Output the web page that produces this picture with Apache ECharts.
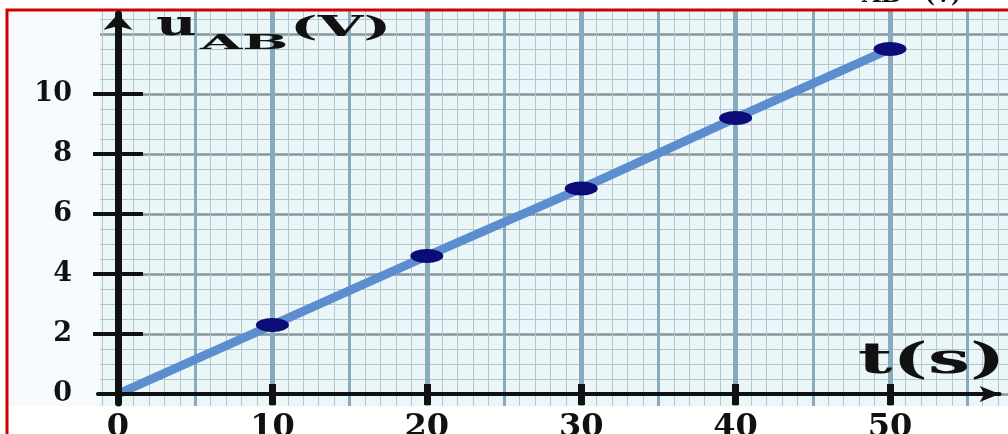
<!DOCTYPE html>
<html>
<head>
<meta charset="utf-8">
<script src="https://cdn.jsdelivr.net/npm/echarts@6/dist/echarts.min.js"></script>
<style>
html,body{margin:0;padding:0;background:#ffffff;}
#chart{width:1008px;height:434px;}
</style>
</head>
<body>
<div id="chart"></div>
<script>
// ---- data ----
const tValues = [0, 10, 20, 30, 40, 50];          // t (s)
const uValues = [0, 2.3, 4.6, 6.85, 9.2, 11.5];   // u_AB (V)
const xTickLabels = [0, 10, 20, 30, 40, 50];
const yTickLabels = [0, 2, 4, 6, 8, 10];
const xMajorTicks = [10, 20, 30, 40, 50];
const yMajorTicks = [2, 4, 6, 8, 10];
const yNameParts = ['u', 'AB', '(V)'];
const xName = 't(s)';

// ---- layout (pixels) ----
const W = 1008, H = 434;
const X0 = 118, PX = 15.44;   // pixel of t=0, pixels per second
const Y0 = 394, PY = 30;      // pixel of u=0, pixels per volt

const data = tValues.map((t, i) => i === 0
  ? { value: [t, uValues[i]], symbol: 'none' }
  : [t, uValues[i]]);

const font = '"DejaVu Serif", "Liberation Serif", serif';
const minorColor = '#b4c6cb';
const majorVColor = '#86abbd';
const majorHColor = '#86969a';

// paper grid (grid 0)
const pXmin = -10, pXmax = 60, pYmin = -2, pYmax = 13;
// axis grid (grid 1)
const aXmin = -1.3, aXmax = 57.1, aYmin = -0.3, aYmax = 12.67;

const chart = echarts.init(document.getElementById('chart'), null, { renderer: 'canvas' });

const option = {
  animation: false,
  backgroundColor: '#ffffff',
  grid: [
    {
      left: X0 + pXmin * PX, right: W - (X0 + pXmax * PX),
      top: Y0 - pYmax * PY, bottom: H - (Y0 - pYmin * PY),
      containLabel: false, outerBoundsMode: 'none',
      show: true, backgroundColor: '#ebf6f9', borderWidth: 0
    },
    {
      left: X0 + aXmin * PX, right: W - (X0 + aXmax * PX),
      top: Y0 - aYmax * PY, bottom: H - (Y0 - aYmin * PY),
      containLabel: false, outerBoundsMode: 'none',
      show: false
    }
  ],
  xAxis: [
    { // paper: 1 s minor lines, 5 s lines
      gridIndex: 0, type: 'value', min: pXmin, max: pXmax, interval: 5,
      axisLine: { show: false, onZero: false }, axisTick: { show: false }, axisLabel: { show: false },
      splitLine: { show: true, lineStyle: { color: majorVColor, width: 3 } },
      minorTick: { show: false, splitNumber: 5 },
      minorSplitLine: { show: true, lineStyle: { color: minorColor, width: 1 } }
    },
    { // paper: 10 s heavier lines
      gridIndex: 0, type: 'value', min: pXmin, max: pXmax, interval: 10,
      axisLine: { show: false, onZero: false }, axisTick: { show: false }, axisLabel: { show: false },
      splitLine: { show: true, lineStyle: { color: majorVColor, width: 5 } }
    },
    { // visible t axis
      gridIndex: 1, type: 'value', min: aXmin, max: aXmax, z: 5,
      position: 'bottom',
      splitLine: { show: false },
      axisLine: {
        show: true, onZero: true,
        symbol: ['none', 'arrow'], symbolSize: [12, 20],
        lineStyle: { color: '#111111', width: 4 }
      },
      axisTick: { show: true, customValues: xMajorTicks, length: 11, inside: false,
        lineStyle: { color: '#111111', width: 7 } },
      axisLabel: {
        show: true, customValues: xTickLabels, margin: 9,
        fontFamily: font, fontWeight: 'bold', fontSize: 32, color: '#111111'
      }
    },
    { // inner half of the t ticks
      gridIndex: 1, type: 'value', min: aXmin, max: aXmax, z: 5,
      position: 'bottom',
      splitLine: { show: false },
      axisLine: { show: false, onZero: true },
      axisTick: { show: true, customValues: xMajorTicks, length: 10, inside: true,
        lineStyle: { color: '#111111', width: 7 } },
      axisLabel: { show: false }
    }
  ],
  yAxis: [
    { // paper: 0.5 V minor, 2 V major
      gridIndex: 0, type: 'value', min: pYmin, max: pYmax, interval: 2,
      axisLine: { show: false, onZero: false }, axisTick: { show: false }, axisLabel: { show: false },
      splitLine: { show: true, lineStyle: { color: majorHColor, width: 2.5 } },
      minorTick: { show: false, splitNumber: 4 },
      minorSplitLine: { show: true, lineStyle: { color: minorColor, width: 1 } }
    },
    { // visible u axis
      gridIndex: 1, type: 'value', min: aYmin, max: aYmax, z: 5,
      position: 'left',
      splitLine: { show: false },
      axisLine: {
        show: true, onZero: true,
        symbol: ['none', 'arrow'], symbolSize: [22, 16],
        lineStyle: { color: '#111111', width: 7 }
      },
      axisTick: { show: true, customValues: yMajorTicks, length: 25, inside: false,
        lineStyle: { color: '#111111', width: 4 } },
      axisLabel: {
        show: true, customValues: yTickLabels, margin: 26,
        fontFamily: font, fontWeight: 'bold', fontSize: 27, color: '#111111'
      }
    },
    { // inner half of u ticks
      gridIndex: 1, type: 'value', min: aYmin, max: aYmax, z: 5,
      position: 'left',
      splitLine: { show: false },
      axisLine: { show: false, onZero: true },
      axisTick: { show: true, customValues: yMajorTicks, length: 25, inside: true,
        lineStyle: { color: '#111111', width: 4 } },
      axisLabel: { show: false }
    }
  ],
  series: [
    {
      type: 'line',
      xAxisIndex: 2, yAxisIndex: 1,
      data: data,
      z: 4,
      symbol: 'circle',
      symbolSize: [33, 14],
      showSymbol: true,
      lineStyle: { color: '#5b8dcf', width: 9 },
      itemStyle: { color: '#0c0c78', borderWidth: 0 }
    }
  ],
  graphic: [
    // covers outside the graph paper
    { type: 'rect', z: 1, shape: { x: 0, y: 0, width: 100, height: H }, style: { fill: '#f6fafc' } },
    { type: 'rect', z: 1, shape: { x: 0, y: 0, width: W, height: 11 }, style: { fill: '#ffffff' } },
    { type: 'rect', z: 1, shape: { x: 0, y: 406, width: W, height: 40 }, style: { fill: '#ffffff' } },
    { type: 'rect', z: 1, shape: { x: 0, y: 0, width: 7, height: H }, style: { fill: '#ffffff' } },
    // red frame
    { type: 'rect', z: 2, shape: { x: 7, y: 10, width: 1100, height: 600 },
      style: { fill: 'none', stroke: '#d10000', lineWidth: 3 } },
    // u_AB(V) axis name
    { type: 'text', z: 10, x: 156, y: 26, scaleX: 1.55,
      style: { text: yNameParts[0], font: 'bold 36px ' + font, fill: '#111111',
        textAlign: 'left', textVerticalAlign: 'middle', verticalAlign: 'middle' } },
    { type: 'text', z: 10, x: 200, y: 44, scaleX: 2.6,
      style: { text: yNameParts[1], font: 'bold 21px ' + font, fill: '#111111',
        textAlign: 'left', textVerticalAlign: 'middle', verticalAlign: 'middle' } },
    { type: 'text', z: 10, x: 290, y: 29, scaleX: 2.1,
      style: { text: yNameParts[2], font: 'bold 28px ' + font, fill: '#111111',
        textAlign: 'left', textVerticalAlign: 'middle', verticalAlign: 'middle' } },
    // t(s) axis name
    { type: 'text', z: 10, x: 858, y: 362, scaleX: 1.78,
      style: { text: xName, font: 'bold 42px ' + font, fill: '#111111',
        textAlign: 'left', textVerticalAlign: 'middle', verticalAlign: 'middle' } },
    // cropped label at the top edge of the picture
    { type: 'text', z: 10, x: 862, y: -4, scaleX: 1.1,
      style: { text: yNameParts[1], font: 'bold 22px ' + font, fill: '#111111',
        textAlign: 'left', textVerticalAlign: 'middle', verticalAlign: 'middle' } },
    { type: 'text', z: 10, x: 925, y: -4, scaleX: 0.95,
      style: { text: yNameParts[2], font: 'bold 22px ' + font, fill: '#111111',
        textAlign: 'left', textVerticalAlign: 'middle', verticalAlign: 'middle' } }
  ]
};

chart.setOption(option);
</script>
</body>
</html>
